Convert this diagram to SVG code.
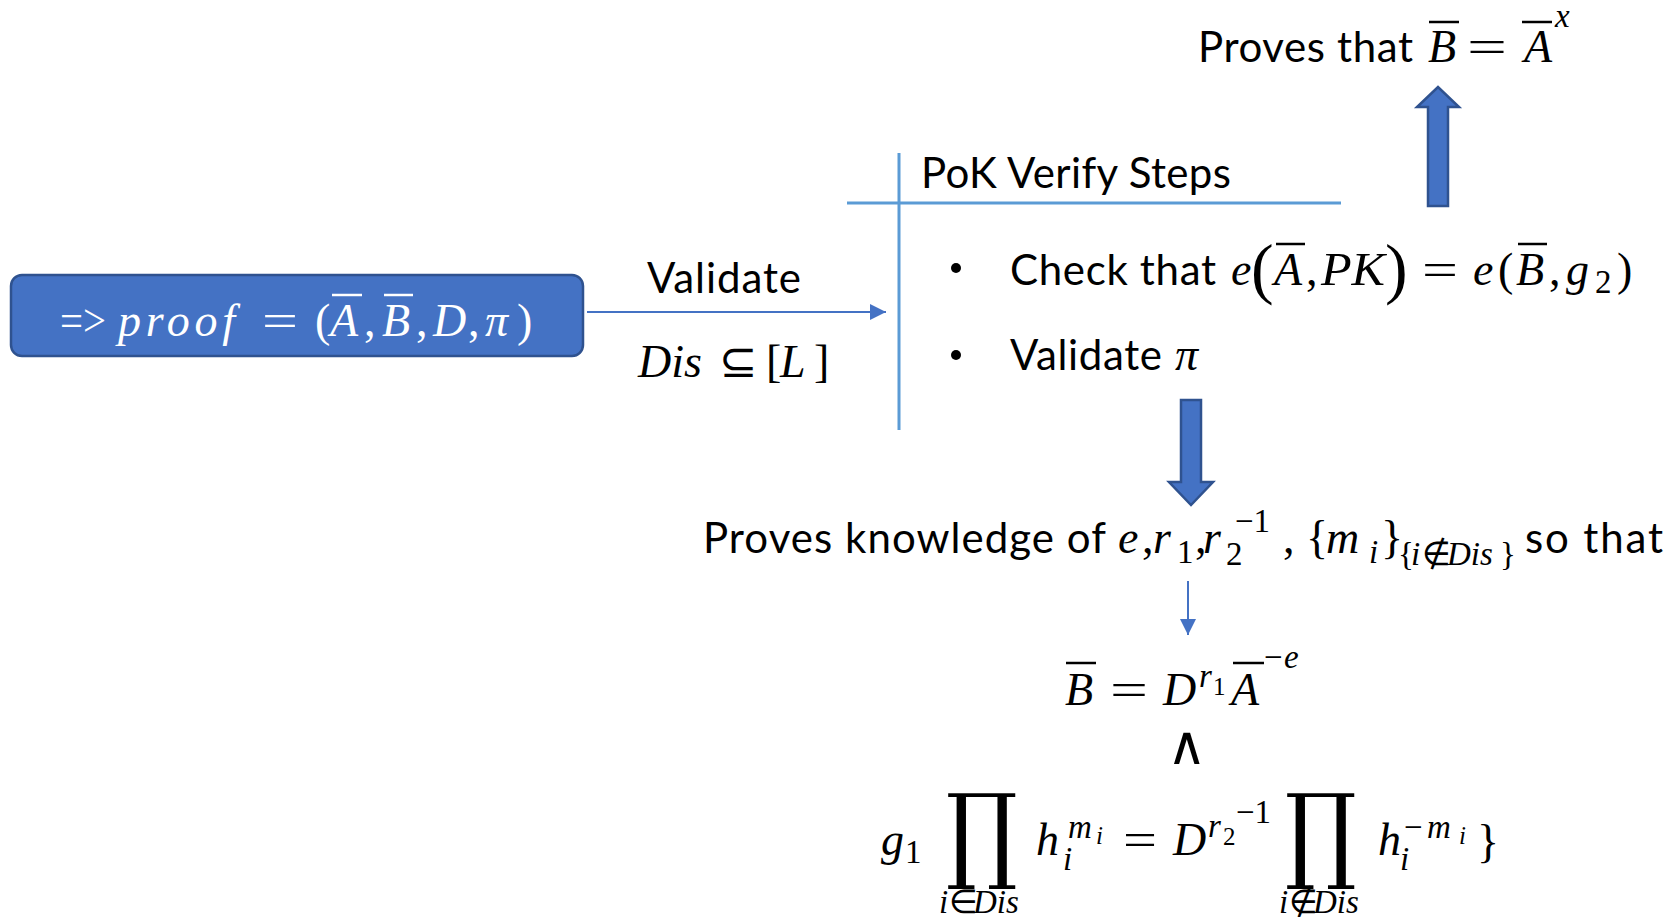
<svg xmlns="http://www.w3.org/2000/svg" width="1678" height="917" viewBox="0 0 1678 917">
<defs>
<style>
.t{font-family:Lato,"Liberation Sans",sans-serif;font-size:42px;fill:#000}
.m{font-family:"Liberation Serif",serif;font-style:italic;font-size:46px;fill:#000}
.u{font-style:normal}
.s{font-size:33px}
.w{fill:#fff}
.bar{stroke:#000;stroke-width:2.5}
.wbar{stroke:#fff;stroke-width:2.5}
.blk{fill:#4472C4;stroke:#2F528F;stroke-width:2.5}
.thin{stroke:#4472C4;stroke-width:2}
.pok{stroke:#5B9BD5;stroke-width:3}
.prod{font-family:"DejaVu Serif",serif;font-size:105px;fill:#000}
</style>
<marker id="ah" markerUnits="userSpaceOnUse" markerWidth="18" markerHeight="18" refX="16" refY="8" orient="auto">
<path d="M0,0 L16,8 L0,16 z" fill="#4472C4"/>
</marker>
</defs>
<rect width="1678" height="917" fill="#fff"/>

<g id="connectors">
<line class="thin" x1="587" y1="312" x2="886" y2="312" marker-end="url(#ah)"/>
<line class="thin" x1="1188" y1="581" x2="1188" y2="635" marker-end="url(#ah)"/>
<polygon class="blk" points="1181,400 1201,400 1201,482 1213,482 1191,505 1169,482 1181,482"/>
<polygon class="blk" points="1428,206 1448,206 1448,107 1459,107 1438,87 1417,107 1428,107"/>
</g>

<g id="proof-node">
<rect class="blk" x="11" y="275" width="572" height="81" rx="11"/>
<text class="m w u" x="60" y="336" textLength="46" lengthAdjust="spacingAndGlyphs">=&gt;</text>
<text class="m w" x="118" y="336" textLength="117">proof</text>
<text class="m w u" x="262" y="336" textLength="36" lengthAdjust="spacingAndGlyphs">=</text>
<text class="m w"><tspan class="u" x="315" y="336">(</tspan><tspan x="330" y="336">A</tspan><tspan class="u" x="364" y="336">,</tspan><tspan x="382" y="336">B</tspan><tspan class="u" x="416" y="336">,</tspan><tspan x="433" y="336">D</tspan><tspan class="u" x="468" y="336">,</tspan><tspan x="485" y="336">π</tspan><tspan class="u" x="517" y="336">)</tspan></text>
<line class="wbar" x1="332" y1="295" x2="362" y2="295"/>
<line class="wbar" x1="384" y1="295" x2="413" y2="295"/>
</g>

<g id="edge-labels">
<text class="t" x="647" y="293" textLength="154">Validate</text>
<text class="m"><tspan x="638" y="377">Dis</tspan><tspan class="u" x="719" y="377">⊆</tspan><tspan class="u" x="766" y="377">[</tspan><tspan x="780" y="377">L</tspan><tspan class="u" x="814" y="377">]</tspan></text>
</g>

<g id="pok-steps">
<line class="pok" x1="899" y1="153" x2="899" y2="430"/>
<line class="pok" x1="847" y1="203" x2="1341" y2="203"/>
<text class="t" x="921" y="188" textLength="310">PoK Verify Steps</text>
<circle cx="956" cy="268" r="5"/>
<text class="t" x="1010" y="285" textLength="206">Check that</text>
<text class="m"><tspan x="1231" y="285">e</tspan><tspan x="1274" y="285">A</tspan><tspan class="u" x="1306" y="285">,</tspan><tspan x="1473" y="285">e</tspan><tspan class="u" x="1498" y="285">(</tspan><tspan x="1516" y="285">B</tspan><tspan class="u" x="1549" y="285">,</tspan><tspan x="1566" y="285">g</tspan><tspan class="u s" x="1595" y="293">2</tspan><tspan class="u" x="1617" y="285">)</tspan></text>
<text class="m" x="1321" y="285" textLength="64" lengthAdjust="spacingAndGlyphs">PK</text>
<text class="m u" x="1422" y="285" textLength="36" lengthAdjust="spacingAndGlyphs">=</text>
<text class="m u" x="1251" y="291" style="font-size:68px">(</text>
<text class="m u" x="1385" y="291" style="font-size:68px">)</text>
<line class="bar" x1="1276" y1="244" x2="1305" y2="244"/>
<line class="bar" x1="1518" y1="244" x2="1547" y2="244"/>
<circle cx="956" cy="355" r="5"/>
<text class="t" x="1010" y="370" textLength="152">Validate</text>
<text class="m" x="1175" y="370">π</text>
</g>

<g id="proves-that">
<text class="t" x="1198" y="62" textLength="215">Proves that</text>
<text class="m"><tspan x="1428" y="62">B</tspan><tspan x="1524" y="62">A</tspan><tspan class="s" x="1555" y="27">x</tspan></text>
<text class="m u" x="1467" y="62" textLength="40" lengthAdjust="spacingAndGlyphs">=</text>
<line class="bar" x1="1429" y1="22" x2="1459" y2="22"/>
<line class="bar" x1="1522" y1="22" x2="1552" y2="22"/>
</g>

<g id="proves-knowledge">
<text class="t" x="703" y="553" textLength="403">Proves knowledge of</text>
<text class="m"><tspan x="1118" y="553">e</tspan><tspan class="u" x="1142" y="553">,</tspan><tspan x="1153" y="553">r</tspan><tspan class="u s" x="1177" y="563">1</tspan><tspan class="u" x="1195" y="553">,</tspan><tspan x="1203" y="553">r</tspan><tspan class="u s" x="1226" y="565">2</tspan><tspan class="u s" x="1235" y="532">−1</tspan><tspan class="u" x="1283" y="553">,</tspan><tspan class="u" x="1306" y="553">{</tspan><tspan x="1326" y="553">m</tspan><tspan class="s" x="1369" y="563">i</tspan><tspan class="u" x="1381" y="553">}</tspan><tspan class="u s" x="1398" y="565">{</tspan><tspan class="s" x="1411" y="565">i</tspan><tspan class="u s" x="1422" y="565">∉</tspan><tspan class="s" x="1447" y="565">Dis</tspan><tspan class="u s" x="1500" y="565">}</tspan></text>
<text class="t" x="1525" y="553" textLength="138">so that</text>
</g>

<g id="equations">
<text class="m"><tspan x="1065" y="705">B</tspan><tspan x="1163" y="705">D</tspan><tspan class="s" x="1199" y="687">r</tspan><tspan class="u" x="1213" y="695" font-size="25">1</tspan><tspan x="1231" y="705">A</tspan><tspan class="u s" x="1264" y="668">−</tspan><tspan class="s" x="1284" y="668">e</tspan></text>
<text class="m u" x="1110" y="705" textLength="38" lengthAdjust="spacingAndGlyphs">=</text>
<line class="bar" x1="1066" y1="663" x2="1096" y2="663"/>
<line class="bar" x1="1233" y1="663" x2="1264" y2="663"/>
<text class="m u" x="1187" y="764" text-anchor="middle" style="font-size:54px">∧</text>
<text class="m"><tspan x="881" y="855">g</tspan><tspan class="u s" x="905" y="863">1</tspan><tspan x="1036" y="855">h</tspan><tspan class="s" x="1063" y="870">i</tspan><tspan class="s" x="1068" y="838">m</tspan><tspan x="1096" y="844" font-size="25">i</tspan><tspan x="1173" y="855">D</tspan><tspan class="s" x="1208" y="837">r</tspan><tspan class="u" x="1223" y="845" font-size="25">2</tspan><tspan class="u s" x="1236" y="823">−1</tspan><tspan x="1378" y="855">h</tspan><tspan class="s" x="1400" y="870">i</tspan><tspan class="u s" x="1404" y="838">−</tspan><tspan class="s" x="1427" y="838">m</tspan><tspan x="1459" y="844" font-size="25">i</tspan><tspan class="u" x="1477" y="857">}</tspan></text>
<text class="m u" x="1123" y="855" textLength="34" lengthAdjust="spacingAndGlyphs">=</text>
<text class="prod" transform="translate(982,869) scale(0.86,1)" text-anchor="middle">∏</text>
<text class="prod" transform="translate(1321,869) scale(0.86,1)" text-anchor="middle">∏</text>
<text class="m s"><tspan x="939" y="913">i</tspan><tspan class="u" x="949" y="913">∈</tspan><tspan x="973" y="913">Dis</tspan></text>
<text class="m s"><tspan x="1279" y="913">i</tspan><tspan class="u" x="1289" y="913">∉</tspan><tspan x="1313" y="913">Dis</tspan></text>
</g>
</svg>
